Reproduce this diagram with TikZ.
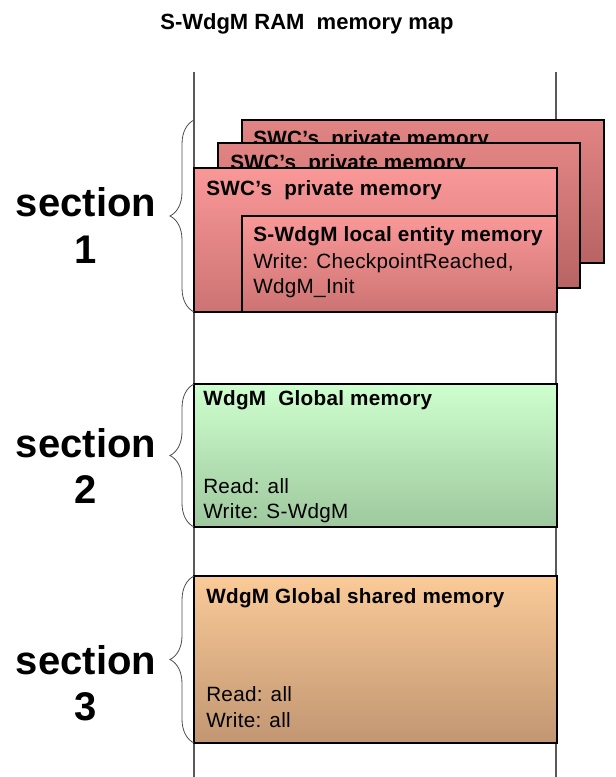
\documentclass[tikz,border=0pt]{standalone}
\usepackage{fontspec}
\setmainfont{Liberation Sans}
\usetikzlibrary{decorations.pathreplacing}
\definecolor{redtop}{RGB}{250,152,152}
\definecolor{redbot}{RGB}{205,115,115}
\definecolor{darkredtop}{RGB}{226,132,132}
\definecolor{darkredbot}{RGB}{184,100,100}
\definecolor{greentop}{RGB}{206,255,206}
\definecolor{greenbot}{RGB}{158,200,158}
\definecolor{orangetop}{RGB}{250,202,152}
\definecolor{orangebot}{RGB}{193,150,114}
\tikzset{
    mapline/.style={draw=black!65, line width=0.8pt},
    backbox/.style={draw, line width=1.5pt, top color=darkredtop, bottom color=darkredbot},
    frontbox/.style={draw, line width=1.5pt, top color=redtop, bottom color=redbot},
    globalbox/.style={draw, line width=1.5pt, top color=greentop, bottom color=greenbot},
    sharedbox/.style={draw, line width=1.5pt, top color=orangetop, bottom color=orangebot},
    boxtitle/.style={anchor=base west, inner sep=0pt, font=\fontsize{15.5}{18}\selectfont\bfseries\addfontfeatures{LetterSpace=1.5}},
    boxtext/.style={anchor=base west, inner sep=0pt, font=\fontsize{15.5}{18}\selectfont\addfontfeatures{LetterSpace=1.5}},
    seclabel/.style={anchor=base, inner sep=0pt, font=\fontsize{30}{36}\selectfont\bfseries},
    secbrace/.style={draw=black!70, line width=0.6pt, decorate, decoration={brace, amplitude=18pt}}
}

\begin{document}
\begin{tikzpicture}[x=0.75pt, y=-0.75pt]
    \useasboundingbox (0,0) rectangle (616,777);

    % title and map borders
    \node[anchor=base, inner sep=0pt, font=\fontsize{16.5}{20}\selectfont\bfseries] (title) at (307,30) {S-WdgM RAM\ \ memory map};
    \coordinate (lefttop) at (194,72);
    \coordinate (leftbot) at (194,777);
    \coordinate (righttop) at (556,72);
    \coordinate (rightbot) at (556,777);
    \draw[mapline] (lefttop) -- (leftbot);
    \draw[mapline] (righttop) -- (rightbot);

    % section 1
    \path[backbox] (242,120) rectangle (604,263);
    \node[boxtitle] (priv3) at (253,146) {SWC's\ \ private memory};
    \path[backbox] (218,143) rectangle (580,288);
    \node[boxtitle] (priv2) at (230,170) {SWC's\ \ private memory};
    \path[frontbox] (194,168) rectangle (557,312);
    \node[boxtitle] (priv1) at (206,196) {SWC's\ \ private memory};
    \path[frontbox] (242,216) rectangle (557,312);
    \node[boxtitle] (local) at (253,242) {S-WdgM local entity memory};
    \node[boxtext] (localw) at (253,268) {Write: CheckpointReached,};
    \node[boxtext] (localinit) at (253,293) {WdgM\_Init};

    % section 2
    \path[globalbox] (194,384) rectangle (557,527);
    \node[boxtitle] (glob) at (203,405) {WdgM\ \ Global memory};
    \node[boxtext] (globr) at (203,493) {Read: all};
    \node[boxtext] (globw) at (203,518) {Write: S-WdgM};

    % section 3
    \path[sharedbox] (194,576) rectangle (557,743);
    \node[boxtitle] (shared) at (206,603) {WdgM Global shared memory};
    \node[boxtext] (sharedr) at (206,701) {Read: all};
    \node[boxtext] (sharedw) at (206,727) {Write: all};

    % section labels
    \node[seclabel] (sec1) at (86,217) {section};
    \node[seclabel] (sec1n) at (86,263) {1};
    \node[seclabel] (sec2) at (86,457) {section};
    \node[seclabel] (sec2n) at (86,503) {2};
    \node[seclabel] (sec3) at (86,674) {section};
    \node[seclabel] (sec3n) at (86,720) {3};

    % braces
    \coordinate (b1top) at (194,120);
    \coordinate (b1bot) at (194,312);
    \coordinate (b2top) at (194,384);
    \coordinate (b2bot) at (194,527);
    \coordinate (b3top) at (194,576);
    \coordinate (b3bot) at (194,743);
    \draw[secbrace] (b1bot) -- (b1top);
    \draw[secbrace] (b2bot) -- (b2top);
    \draw[secbrace] (b3bot) -- (b3top);
\end{tikzpicture}
\end{document}
